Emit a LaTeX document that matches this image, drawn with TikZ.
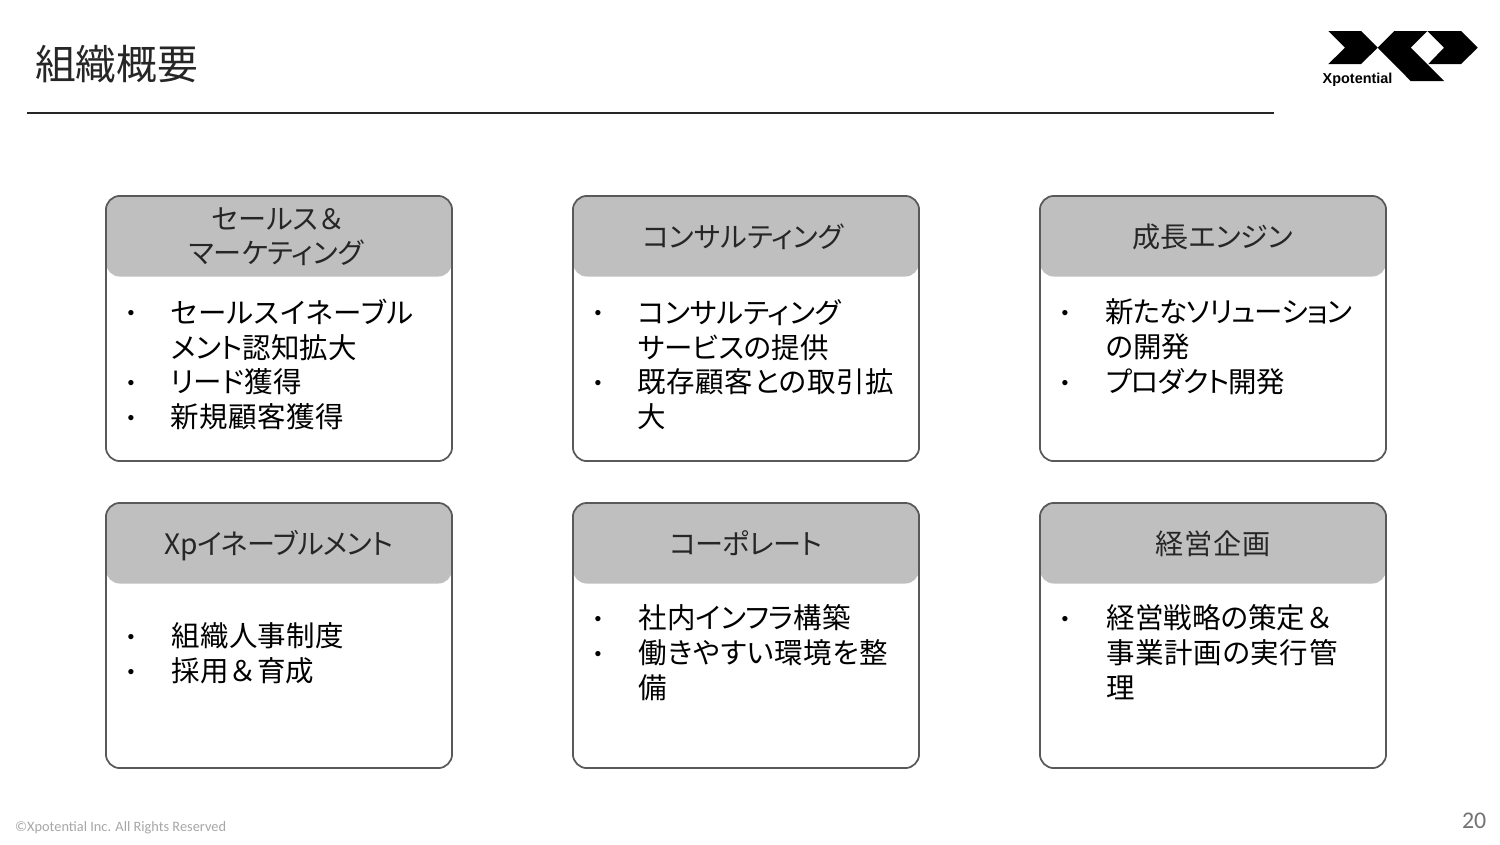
\documentclass[tikz,border=0pt]{standalone}
\usepackage{fontspec}
\setmainfont{Carlito}
\newfontfamily\jpfont[RawFeature=+palt]{Noto Sans CJK JP}
\newfontfamily\jpfull{Noto Sans CJK JP}
\newfontfamily\logofont[BoldFont=Liberation Sans Bold]{Liberation Sans}
\definecolor{headgray}{HTML}{BFBFBF}
\definecolor{edgegray}{HTML}{595959}
\newcommand{\wideamp}{{\jpfull ＆}}
\newcommand{\track}[2]{{\addfontfeature{LetterSpace=#1}#2}}
\tikzset{
  panel/.style={draw=edgegray,line width=.5pt,rounded corners=.14cm,minimum width=3.46cm,minimum height=2.65cm,inner sep=0},
  panelhead/.style={fill=headgray,rounded corners=.14cm,minimum width=3.46cm,minimum height=.8cm,inner sep=0,align=center,text=black!85,font=\jpfont\fontsize{8}{9.7}\selectfont},
  item/.style={anchor=north west,inner sep=0,align=left,font=\jpfont\fontsize{8.1}{9.92}\selectfont},
  dotmark/.style={inner sep=0,font=\logofont\fontsize{5.5}{6}\selectfont}
}
\begin{document}
\begin{tikzpicture}[x=.01cm,y=-.01cm]
\useasboundingbox (0,0) rectangle (1500,844);
% title
\node[anchor=west,inner sep=0,text=black!85,font=\jpfont\fontsize{11.6}{14}\selectfont] (title) at (34.5,64) {組織概要};
\coordinate (ruleleft) at (27,113);
\coordinate (ruleright) at (1274,113);
\draw[line width=.45pt,black!85] (ruleleft) -- (ruleright);
% logo
\fill (1328.3,31) -- (1361,31) -- (1377.7,47.7) -- (1361,64) -- (1328.3,64) -- (1345,47.7) -- cycle;
\fill (1377.7,47.7) -- (1394.3,31) -- (1427.3,31) -- (1410.7,47.7) -- (1444,81) -- (1410.7,81) -- cycle;
\fill (1427.3,31) -- (1461,31) -- (1477.7,47.7) -- (1461,64) -- (1428.3,64) -- (1444,47.7) -- cycle;
\node[anchor=west,inner sep=0,font=\logofont\bfseries\fontsize{4.1}{4}\selectfont] (logotext) at (1322,80) {Xpotential};
% top row
\node[panelhead] (saleshead) at (279,236.5) {セールス\wideamp\\マーケティング\hspace*{1.7pt}};
\node[panel] (salesbox) at (279,328.5) {};
\node[dotmark] (sa) at (131,315) {•};
\node[dotmark] (sb) at (131,385) {•};
\node[dotmark] (sc) at (131,420) {•};
\node[item] (salesitems) at (170,298) {\track{2}{セールスイネーブル}\\メント認知拡大\\リード獲得\\\track{2}{新規顧客獲得}};
\node[panelhead] (conshead) at (746,236.5) {コンサルティング\hspace*{1.7pt}};
\node[panel] (consbox) at (746,328.5) {};
\node[dotmark] (ca) at (598,315) {•};
\node[dotmark] (cb) at (598,385) {•};
\node[item] (consitems) at (637,298.5) {コンサルティング\\サービスの提供\\\track{2}{既存顧客との取引拡}\\大};
\node[panelhead] (growhead) at (1213,236.5) {成長エンジン};
\node[panel] (growbox) at (1213,328.5) {};
\node[dotmark] (ga) at (1065,315) {•};
\node[dotmark] (gb) at (1065,385) {•};
\node[item] (growitems) at (1105,298) {\track{-3}{新たなソリューション}\\の開発\\\track{-3}{プロダクト開発}};
% bottom row
\node[panelhead,text height=7pt,text depth=.5pt] (xphead) at (279,543.5) {\track{-2}{Xpイネーブルメント}};
\node[panel] (xpbox) at (279,635.5) {};
\node[dotmark] (xa) at (131,639) {•};
\node[dotmark] (xb) at (131,674) {•};
\node[item] (xpitems) at (171,622) {\track{1}{組織人事制度}\\採用\wideamp 育成};
\node[panelhead] (corphead) at (746,543.5) {\track{-2}{コーポレート}};
\node[panel] (corpbox) at (746,635.5) {};
\node[dotmark] (pa) at (598,621) {•};
\node[dotmark] (pb) at (598,656) {•};
\node[item] (corpitems) at (638,604) {社内インフラ構築\\\track{2}{働きやすい環境を整}\\備};
\node[panelhead] (planhead) at (1213,543.5) {\track{3}{経営企画}};
\node[panel] (planbox) at (1213,635.5) {};
\node[dotmark] (ma) at (1065,621) {•};
\node[item] (planitems) at (1106,604) {経営戦略の策定\wideamp\\\track{2}{事業計画の実行管}\\理};
% footer
\node[anchor=west,inner sep=0,text=black!35,font=\fontsize{4.08}{5}\selectfont] (copyright) at (14.5,828) {©Xpotential Inc. All Rights Reserved};
\node[anchor=east,inner sep=0,text=black!55,font=\fontsize{6.8}{7}\selectfont] (pagenum) at (1487,821) {20};
\end{tikzpicture}
\end{document}
